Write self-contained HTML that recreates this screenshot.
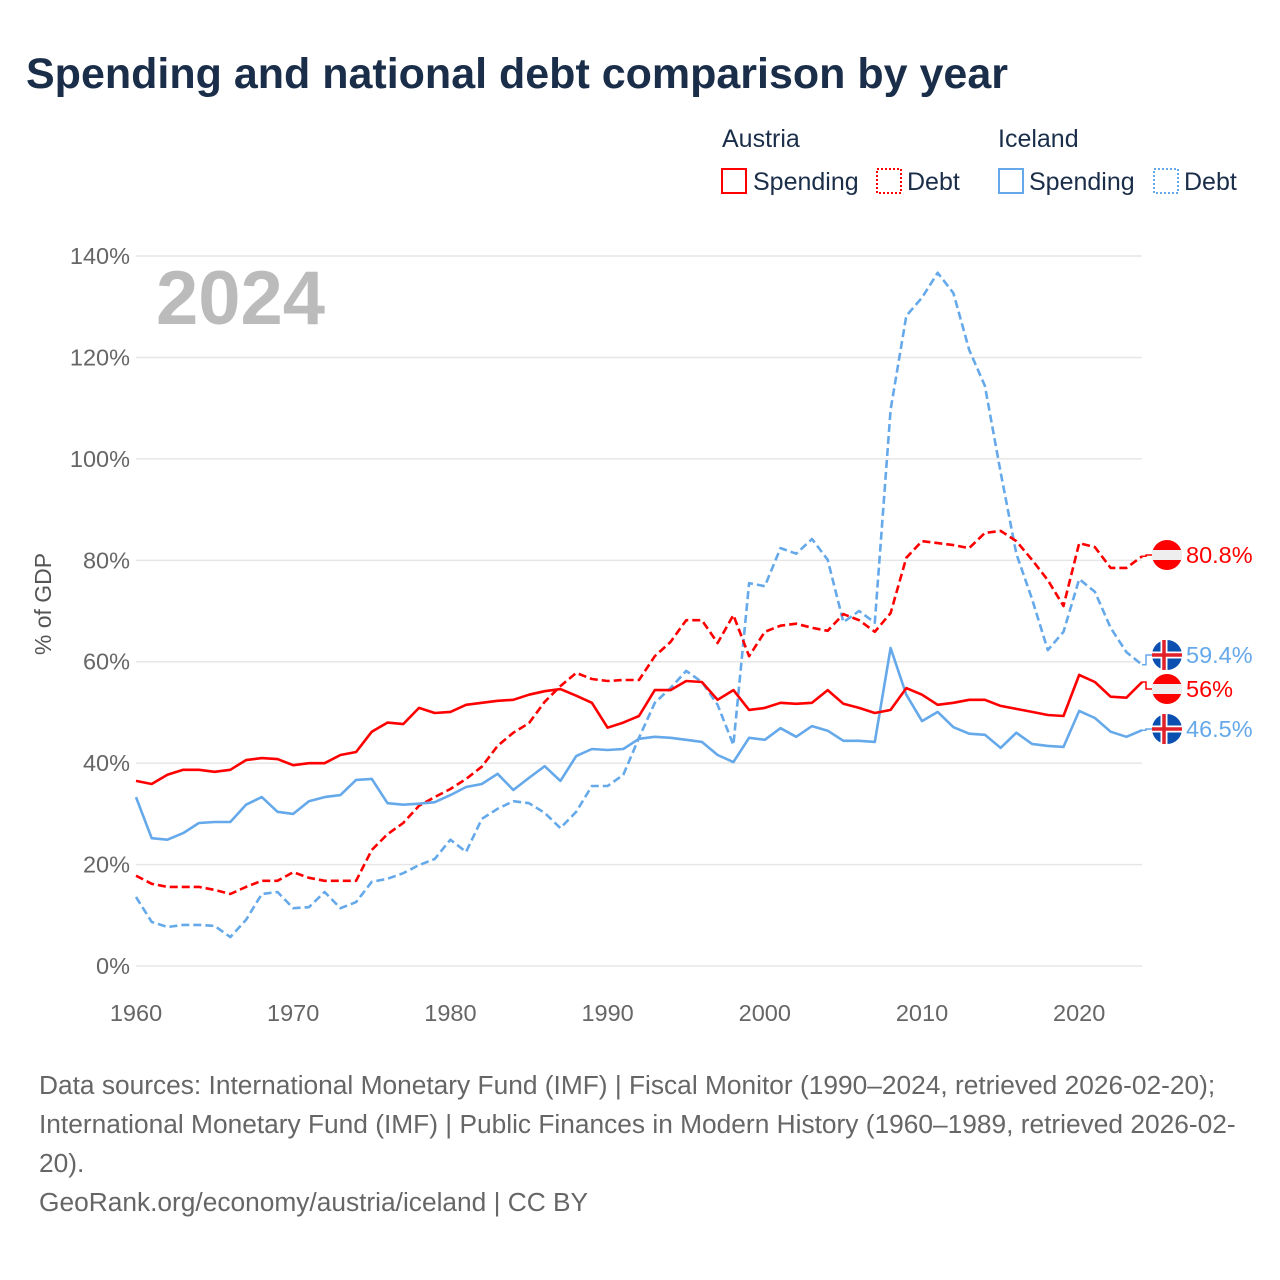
<!DOCTYPE html>
<html><head><meta charset="utf-8"><style>
body{margin:0;width:1280px;height:1280px;background:#fff;font-family:"Liberation Sans",sans-serif;overflow:hidden}
.t{position:absolute}
</style></head><body>
<div class="t" style="left:26px;top:50px;font-size:43px;font-weight:bold;color:#1a2e4a;white-space:nowrap">Spending and national debt comparison by year</div>
<svg id="c" width="1280" height="1280" style="position:absolute;left:0;top:0">
<g font-size="25" fill="#1a2e4a">
<text x="722" y="147">Austria</text>
<text x="998" y="147">Iceland</text>
<rect x="722" y="169" width="24" height="24" fill="none" stroke="#f00" stroke-width="2"/>
<text x="753" y="190">Spending</text>
<rect x="877" y="169" width="24" height="24" fill="none" stroke="#f00" stroke-width="2" stroke-dasharray="2 2"/>
<text x="907" y="190">Debt</text>
<rect x="999" y="169" width="24" height="24" fill="none" stroke="#65a9ea" stroke-width="2"/>
<text x="1029" y="190">Spending</text>
<rect x="1154" y="169" width="24" height="24" fill="none" stroke="#65a9ea" stroke-width="2" stroke-dasharray="2 2"/>
<text x="1184" y="190">Debt</text>
</g>
<text x="156" y="324" font-size="76" font-weight="bold" fill="#bbb">2024</text>
<text transform="translate(51,604) rotate(-90)" text-anchor="middle" font-size="23" fill="#555">% of GDP</text>
</svg>
<div class="t" style="left:39px;top:1066px;width:1230px;font-size:26.3px;line-height:39px;color:#666;white-space:nowrap">Data sources: International Monetary Fund (IMF) | Fiscal Monitor (1990–2024, retrieved 2026-02-20);<br>International Monetary Fund (IMF) | Public Finances in Modern History (1960–1989, retrieved 2026-02-<br>20).<br>GeoRank.org/economy/austria/iceland | CC BY</div>
<script>
const years=[];for(let y=1960;y<=2024;y++)years.push(y);
const yTicks=[0,20,40,60,80,100,120,140];
const xTicks=[1960,1970,1980,1990,2000,2010,2020];
const austriaSpending=[36.5,35.9,37.7,38.7,38.7,38.3,38.7,40.6,41,40.8,39.6,40,40,41.6,42.2,46.2,48,47.7,50.9,49.9,50.1,51.5,51.9,52.3,52.5,53.5,54.2,54.6,53.3,51.9,47,48,49.3,54.4,54.4,56.2,56,52.5,54.4,50.5,50.9,51.9,51.7,51.9,54.4,51.7,50.9,49.9,50.5,54.8,53.5,51.5,51.9,52.5,52.5,51.3,50.7,50.1,49.5,49.3,57.4,56,53.1,52.9,56];
const austriaDebt=[17.8,16.2,15.6,15.6,15.6,15,14.2,15.6,16.8,16.8,18.5,17.4,16.8,16.8,16.8,22.9,26,28.2,31.6,33.3,34.9,36.9,39.3,43.4,46,47.9,52.1,55.2,57.8,56.6,56.2,56.4,56.4,61.1,63.9,68.2,68.2,63.7,69.2,61.1,65.9,67.1,67.5,66.7,66.1,69.4,68.2,65.9,69.6,80.5,83.8,83.4,83,82.4,85.4,85.8,83.8,80.1,76.1,71,83.4,82.6,78.5,78.5,80.8];
const icelandSpending=[33.3,25.2,24.9,26.2,28.2,28.4,28.4,31.8,33.3,30.4,30,32.5,33.3,33.7,36.7,36.9,32.1,31.8,32,32.3,33.7,35.3,35.9,37.9,34.7,37.1,39.4,36.5,41.4,42.8,42.6,42.8,44.8,45.2,45,44.6,44.2,41.6,40.2,45,44.6,46.9,45.2,47.3,46.4,44.4,44.4,44.2,62.7,53.5,48.3,50.1,47.1,45.8,45.6,43,46,43.8,43.4,43.2,50.3,48.9,46.2,45.2,46.5];
const icelandDebt=[13.6,8.7,7.7,8.1,8.1,7.9,5.7,9.1,14.2,14.6,11.4,11.6,14.6,11.4,12.6,16.6,17.2,18.3,19.9,21.1,24.9,22.5,29,31,32.5,32.1,30.2,27.2,30.4,35.5,35.5,37.7,45,51.9,54.8,58.2,56,51.5,43.6,75.5,74.9,82.4,81.3,84.2,80.1,67.8,70,67.7,109.7,128.2,131.8,136.7,132.7,121.5,114.4,97.4,81.3,72.4,62.3,65.9,76.3,73.8,66.7,61.9,59.4];
const endLabels=["80.8%","59.4%","56%","46.5%"];
const X=y=>136+(y-1960)*15.72;
const Y=v=>966-v*5.071;
const svg=document.getElementById('c');const NS='http://www.w3.org/2000/svg';
function mk(tag,at){const e=document.createElementNS(NS,tag);for(const k in at)e.setAttribute(k,at[k]);svg.appendChild(e);return e;}
yTicks.forEach(v=>{
 const l=mk('line',{x1:136,x2:1142,y1:Y(v),y2:Y(v),stroke:'#e6e6e6','stroke-width':1.5});
 
 
 const t=mk('text',{x:130,y:Y(v)+8,'text-anchor':'end','font-size':23.5,fill:'#666'});t.textContent=v+'%';
 
 
});
xTicks.forEach(y=>{
 const t=mk('text',{x:X(y),y:1021,'text-anchor':'middle','font-size':23.5,fill:'#666'});t.textContent=y;
 
 
});
function line(vals,col,dash,name){
 const d=vals.map((v,i)=>(i?'L':'M')+X(years[i]).toFixed(1)+','+Y(v).toFixed(1)).join('');
 const p=mk('path',{d:d,fill:'none',stroke:col,'stroke-width':2.6,'stroke-linejoin':'round'});
 if(dash)p.setAttribute('stroke-dasharray','8 4');
 
 
}
line(icelandDebt,'#65a9ea',true,'line-iceland-debt');
line(austriaDebt,'#f00',true,'line-austria-debt');
line(icelandSpending,'#65a9ea',false,'line-iceland-spending');
line(austriaSpending,'#f00',false,'line-austria-spending');
const ends=[[austriaDebt,'#f00','at'],[icelandDebt,'#65a9ea','is'],[austriaSpending,'#f00','at'],[icelandSpending,'#65a9ea','is']];
const labelY=[555,655,689,729];
ends.forEach((e,i)=>{
 const v=e[0][e[0].length-1],ly=labelY[i],cx=1167;
 const c=mk('path',{d:`M${X(2024)},${Y(v)}L1146,${Y(v)}L1146,${ly}L1152,${ly}`,fill:'none',stroke:e[1],'stroke-width':1.5});
 
 
 if(e[2]=='at'){
  const g=mk('circle',{cx:cx,cy:ly,r:15,fill:'#f00'});
  
  
  const w=mk('rect',{x:cx-15,y:ly-5,width:30,height:10,fill:'#eee'});
  
  
 }else{
  const g=mk('circle',{cx:cx,cy:ly,r:15,fill:'#0b4fb0'});
  
  
  const a=mk('path',{d:`M${cx-15},${ly}H${cx+15}M${cx-3},${ly-15}V${ly+15}`,stroke:'#fff','stroke-width':7});
  
  
  const b=mk('path',{d:`M${cx-15},${ly}H${cx+15}M${cx-3},${ly-15}V${ly+15}`,stroke:'#e0202a','stroke-width':3.5});
  
  
 }
 const t=mk('text',{x:1186,y:ly+8,'font-size':23.5,fill:e[1]});t.textContent=endLabels[i];
 
 
});
</script>
</body></html>
